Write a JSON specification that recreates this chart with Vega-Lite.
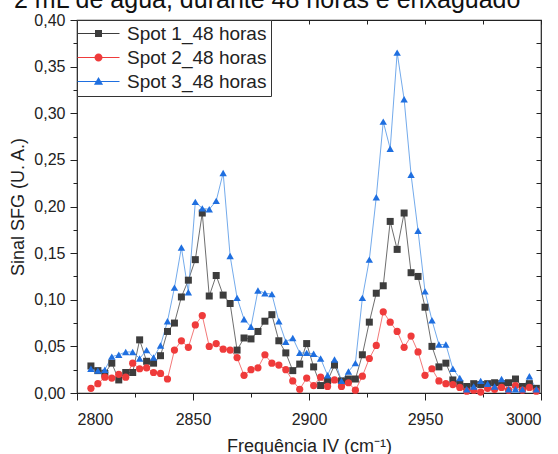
{
 "$schema": "https://vega.github.io/schema/vega-lite/v6.json",
 "width": 464, "height": 373,
 "autosize": {"type": "none"},
 "padding": {"left": 77, "top": 20, "right": 17, "bottom": 61},
 "background": "white",
 "title": {"text": "2 mL de água, durante 48 horas e enxaguado", "anchor": "start", "frame": "group", "dx": -63, "dy": 18.5, "fontSize": 25, "font": "Liberation Sans", "fontWeight": "normal", "color": "#111", "baseline": "alphabetic", "offset": -2},
 "config": {
  "view": {"stroke": "#222", "strokeWidth": 1.2},
  "axis": {"labelFont": "Liberation Sans", "titleFont": "Liberation Sans", "labelColor": "#222", "titleColor": "#222", "tickColor": "#222", "domain": false, "grid": false, "labelFontSize": 16, "titleFontSize": 18, "titleFontWeight": "normal", "tickWidth": 1},
  "legend": {"orient": "top-left", "offset": 0, "padding": 4, "strokeColor": "#333", "fillColor": "white", "labelFont": "Liberation Sans", "labelFontSize": 19, "labelColor": "#222", "symbolSize": 49, "symbolOffset": 8, "labelOffset": 19, "rowPadding": 4, "symbolStrokeWidth": 0}
 },
 "data": {"values": [
  {"freq": 2806, "s1": 0.029, "s2": 0.005, "s3": 0.026},
  {"freq": 2809, "s1": 0.024, "s2": 0.010, "s3": 0.024},
  {"freq": 2812, "s1": 0.021, "s2": 0.017, "s3": 0.025},
  {"freq": 2815, "s1": 0.032, "s2": 0.016, "s3": 0.039},
  {"freq": 2818, "s1": 0.014, "s2": 0.020, "s3": 0.041},
  {"freq": 2821, "s1": 0.022, "s2": 0.017, "s3": 0.044},
  {"freq": 2824, "s1": 0.022, "s2": 0.032, "s3": 0.044},
  {"freq": 2827, "s1": 0.057, "s2": 0.026, "s3": 0.037},
  {"freq": 2830, "s1": 0.034, "s2": 0.027, "s3": 0.046},
  {"freq": 2833, "s1": 0.032, "s2": 0.022, "s3": 0.038},
  {"freq": 2836, "s1": 0.040, "s2": 0.021, "s3": 0.051},
  {"freq": 2839, "s1": 0.066, "s2": 0.015, "s3": 0.077},
  {"freq": 2842, "s1": 0.075, "s2": 0.046, "s3": 0.113},
  {"freq": 2845, "s1": 0.103, "s2": 0.056, "s3": 0.156},
  {"freq": 2848, "s1": 0.121, "s2": 0.049, "s3": 0.108},
  {"freq": 2851, "s1": 0.143, "s2": 0.073, "s3": 0.205},
  {"freq": 2854, "s1": 0.193, "s2": 0.083, "s3": 0.198},
  {"freq": 2857, "s1": 0.104, "s2": 0.050, "s3": 0.197},
  {"freq": 2860, "s1": 0.126, "s2": 0.053, "s3": 0.206},
  {"freq": 2863, "s1": 0.105, "s2": 0.047, "s3": 0.236},
  {"freq": 2866, "s1": 0.096, "s2": 0.046, "s3": 0.147},
  {"freq": 2869, "s1": 0.046, "s2": 0.038, "s3": 0.102},
  {"freq": 2872, "s1": 0.059, "s2": 0.019, "s3": 0.079},
  {"freq": 2875, "s1": 0.058, "s2": 0.025, "s3": 0.071},
  {"freq": 2878, "s1": 0.066, "s2": 0.027, "s3": 0.110},
  {"freq": 2881, "s1": 0.077, "s2": 0.041, "s3": 0.107},
  {"freq": 2884, "s1": 0.084, "s2": 0.032, "s3": 0.106},
  {"freq": 2887, "s1": 0.056, "s2": 0.030, "s3": 0.077},
  {"freq": 2890, "s1": 0.043, "s2": 0.025, "s3": 0.055},
  {"freq": 2893, "s1": 0.024, "s2": 0.013, "s3": 0.059},
  {"freq": 2896, "s1": 0.031, "s2": 0.004, "s3": 0.043},
  {"freq": 2899, "s1": 0.053, "s2": 0.016, "s3": 0.043},
  {"freq": 2902, "s1": 0.028, "s2": 0.008, "s3": 0.042},
  {"freq": 2905, "s1": 0.008, "s2": 0.017, "s3": 0.037},
  {"freq": 2908, "s1": 0.013, "s2": 0.007, "s3": 0.019},
  {"freq": 2911, "s1": 0.030, "s2": 0.014, "s3": 0.036},
  {"freq": 2914, "s1": 0.013, "s2": 0.007, "s3": 0.013},
  {"freq": 2917, "s1": 0.015, "s2": 0.011, "s3": 0.023},
  {"freq": 2920, "s1": 0.015, "s2": 0.003, "s3": 0.032},
  {"freq": 2923, "s1": 0.041, "s2": 0.018, "s3": 0.102},
  {"freq": 2926, "s1": 0.076, "s2": 0.037, "s3": 0.143},
  {"freq": 2929, "s1": 0.107, "s2": 0.051, "s3": 0.210},
  {"freq": 2932, "s1": 0.115, "s2": 0.087, "s3": 0.291},
  {"freq": 2935, "s1": 0.184, "s2": 0.076, "s3": 0.262},
  {"freq": 2938, "s1": 0.154, "s2": 0.066, "s3": 0.365},
  {"freq": 2941, "s1": 0.193, "s2": 0.049, "s3": 0.315},
  {"freq": 2944, "s1": 0.129, "s2": 0.061, "s3": 0.234},
  {"freq": 2947, "s1": 0.125, "s2": 0.044, "s3": 0.174},
  {"freq": 2950, "s1": 0.092, "s2": 0.019, "s3": 0.109},
  {"freq": 2953, "s1": 0.050, "s2": 0.026, "s3": 0.078},
  {"freq": 2956, "s1": 0.028, "s2": 0.013, "s3": 0.052},
  {"freq": 2959, "s1": 0.032, "s2": 0.010, "s3": 0.052},
  {"freq": 2962, "s1": 0.014, "s2": 0.009, "s3": 0.026},
  {"freq": 2965, "s1": 0.010, "s2": 0.006, "s3": 0.016},
  {"freq": 2968, "s1": 0.007, "s2": 0.002, "s3": 0.004},
  {"freq": 2971, "s1": 0.010, "s2": 0.003, "s3": 0.007},
  {"freq": 2974, "s1": 0.009, "s2": 0.001, "s3": 0.013},
  {"freq": 2977, "s1": 0.010, "s2": 0.005, "s3": 0.010},
  {"freq": 2980, "s1": 0.011, "s2": 0.004, "s3": 0.007},
  {"freq": 2983, "s1": 0.010, "s2": 0.006, "s3": 0.015},
  {"freq": 2986, "s1": 0.011, "s2": 0.003, "s3": 0.004},
  {"freq": 2989, "s1": 0.015, "s2": 0.008, "s3": 0.004},
  {"freq": 2992, "s1": 0.007, "s2": 0.003, "s3": 0.004},
  {"freq": 2995, "s1": 0.010, "s2": 0.006, "s3": 0.018},
  {"freq": 2998, "s1": 0.005, "s2": 0.002, "s3": 0.004}
 ]},
 "transform": [{"fold": ["s1", "s2", "s3"], "as": ["serie", "sinal"]}],
 "resolve": {"scale": {"color": "independent", "shape": "independent"}, "axis": {"x": "independent", "y": "independent"}},
 "layer": [
  {
   "mark": {"type": "line", "strokeWidth": 1, "opacity": 0.85},
   "encoding": {
    "x": {"field": "freq", "type": "quantitative", "scale": {"domain": [2800, 3000], "nice": false, "zero": false},
          "axis": {"orient": "bottom", "values": [2800, 2850, 2900, 2950, 3000], "tickSize": 7, "labelPadding": 11, "format": "d", "title": "Frequência IV (cm⁻¹)", "titlePadding": 10}},
    "y": {"field": "sinal", "type": "quantitative", "scale": {"domain": [0, 0.4], "nice": false, "zero": true},
          "axis": {"orient": "left", "values": [0, 0.05, 0.1, 0.15, 0.2, 0.25, 0.3, 0.35, 0.4], "tickSize": 7, "labelPadding": 5, "labelExpr": "replace(format(datum.value, '.2f'), '.', ',')", "title": "Sinal SFG (U. A.)", "titlePadding": 6}},
    "color": {"field": "serie", "type": "nominal", "scale": {"domain": ["s1", "s2", "s3"], "range": ["#555555", "#f06060", "#5a9be8"]}, "legend": null}
   }
  },
  {
   "mark": {"type": "point", "filled": true, "opacity": 1},
   "encoding": {
    "x": {"field": "freq", "type": "quantitative",
          "axis": {"orient": "bottom", "values": [2825, 2875, 2925, 2975], "tickSize": 4, "labels": false, "title": null}},
    "y": {"field": "sinal", "type": "quantitative",
          "axis": {"orient": "left", "values": [0.025, 0.075, 0.125, 0.175, 0.225, 0.275, 0.325, 0.375], "tickSize": 4, "labels": false, "title": null}},
    "color": {"field": "serie", "type": "nominal", "scale": {"domain": ["s1", "s2", "s3"], "range": ["#3d3d3d", "#ef3b3b", "#1f6fe0"]}, "legend": null},
    "shape": {"field": "serie", "type": "nominal", "scale": {"domain": ["s1", "s2", "s3"], "range": ["square", "circle", "triangle-up"]}, "legend": null},
    "size": {"field": "serie", "type": "nominal", "scale": {"domain": ["s1", "s2", "s3"], "range": [49, 55, 75]}, "legend": null},
    "order": {"field": "serie"}
   }
  },
  {
   "transform": [{"filter": "datum.sinal > 1"}],
   "mark": {"type": "point", "filled": true, "opacity": 1, "size": 49},
   "encoding": {
    "x": {"field": "freq", "type": "quantitative",
          "axis": {"orient": "top", "values": [2800, 2825, 2850, 2875, 2900, 2925, 2950, 2975, 3000], "tickSize": -4, "labels": false, "title": null}},
    "y": {"field": "sinal", "type": "quantitative",
          "axis": {"orient": "right", "values": [0, 0.025, 0.05, 0.075, 0.1, 0.125, 0.15, 0.175, 0.2, 0.225, 0.25, 0.275, 0.3, 0.325, 0.35, 0.375, 0.4], "tickSize": -5, "labels": false, "title": null}},
    "color": {"field": "serie", "type": "nominal", "scale": {"domain": ["s1", "s2", "s3"], "range": ["#3d3d3d", "#ef3b3b", "#1f6fe0"]},
              "legend": {"title": null, "labelExpr": "datum.label == 's1' ? 'Spot 1_48 horas' : datum.label == 's2' ? 'Spot 2_48 horas' : 'Spot 3_48 horas'"}},
    "shape": {"field": "serie", "type": "nominal", "scale": {"domain": ["s1", "s2", "s3"], "range": [
       "M-6,-0.13H6V0.13H-6Z M-1,-1H1V1H-1Z",
       "M-6,-0.13H6V0.13H-6Z M-1.15,0A1.15,1.15 0 1,1 1.15,0A1.15,1.15 0 1,1 -1.15,0Z",
       "M-6,-0.13H6V0.13H-6Z M0,-1.3L1.3,0.95H-1.3Z"]},
              "legend": {"title": null, "labelExpr": "datum.label == 's1' ? 'Spot 1_48 horas' : datum.label == 's2' ? 'Spot 2_48 horas' : 'Spot 3_48 horas'"}}
   }
  }
 ]
}
